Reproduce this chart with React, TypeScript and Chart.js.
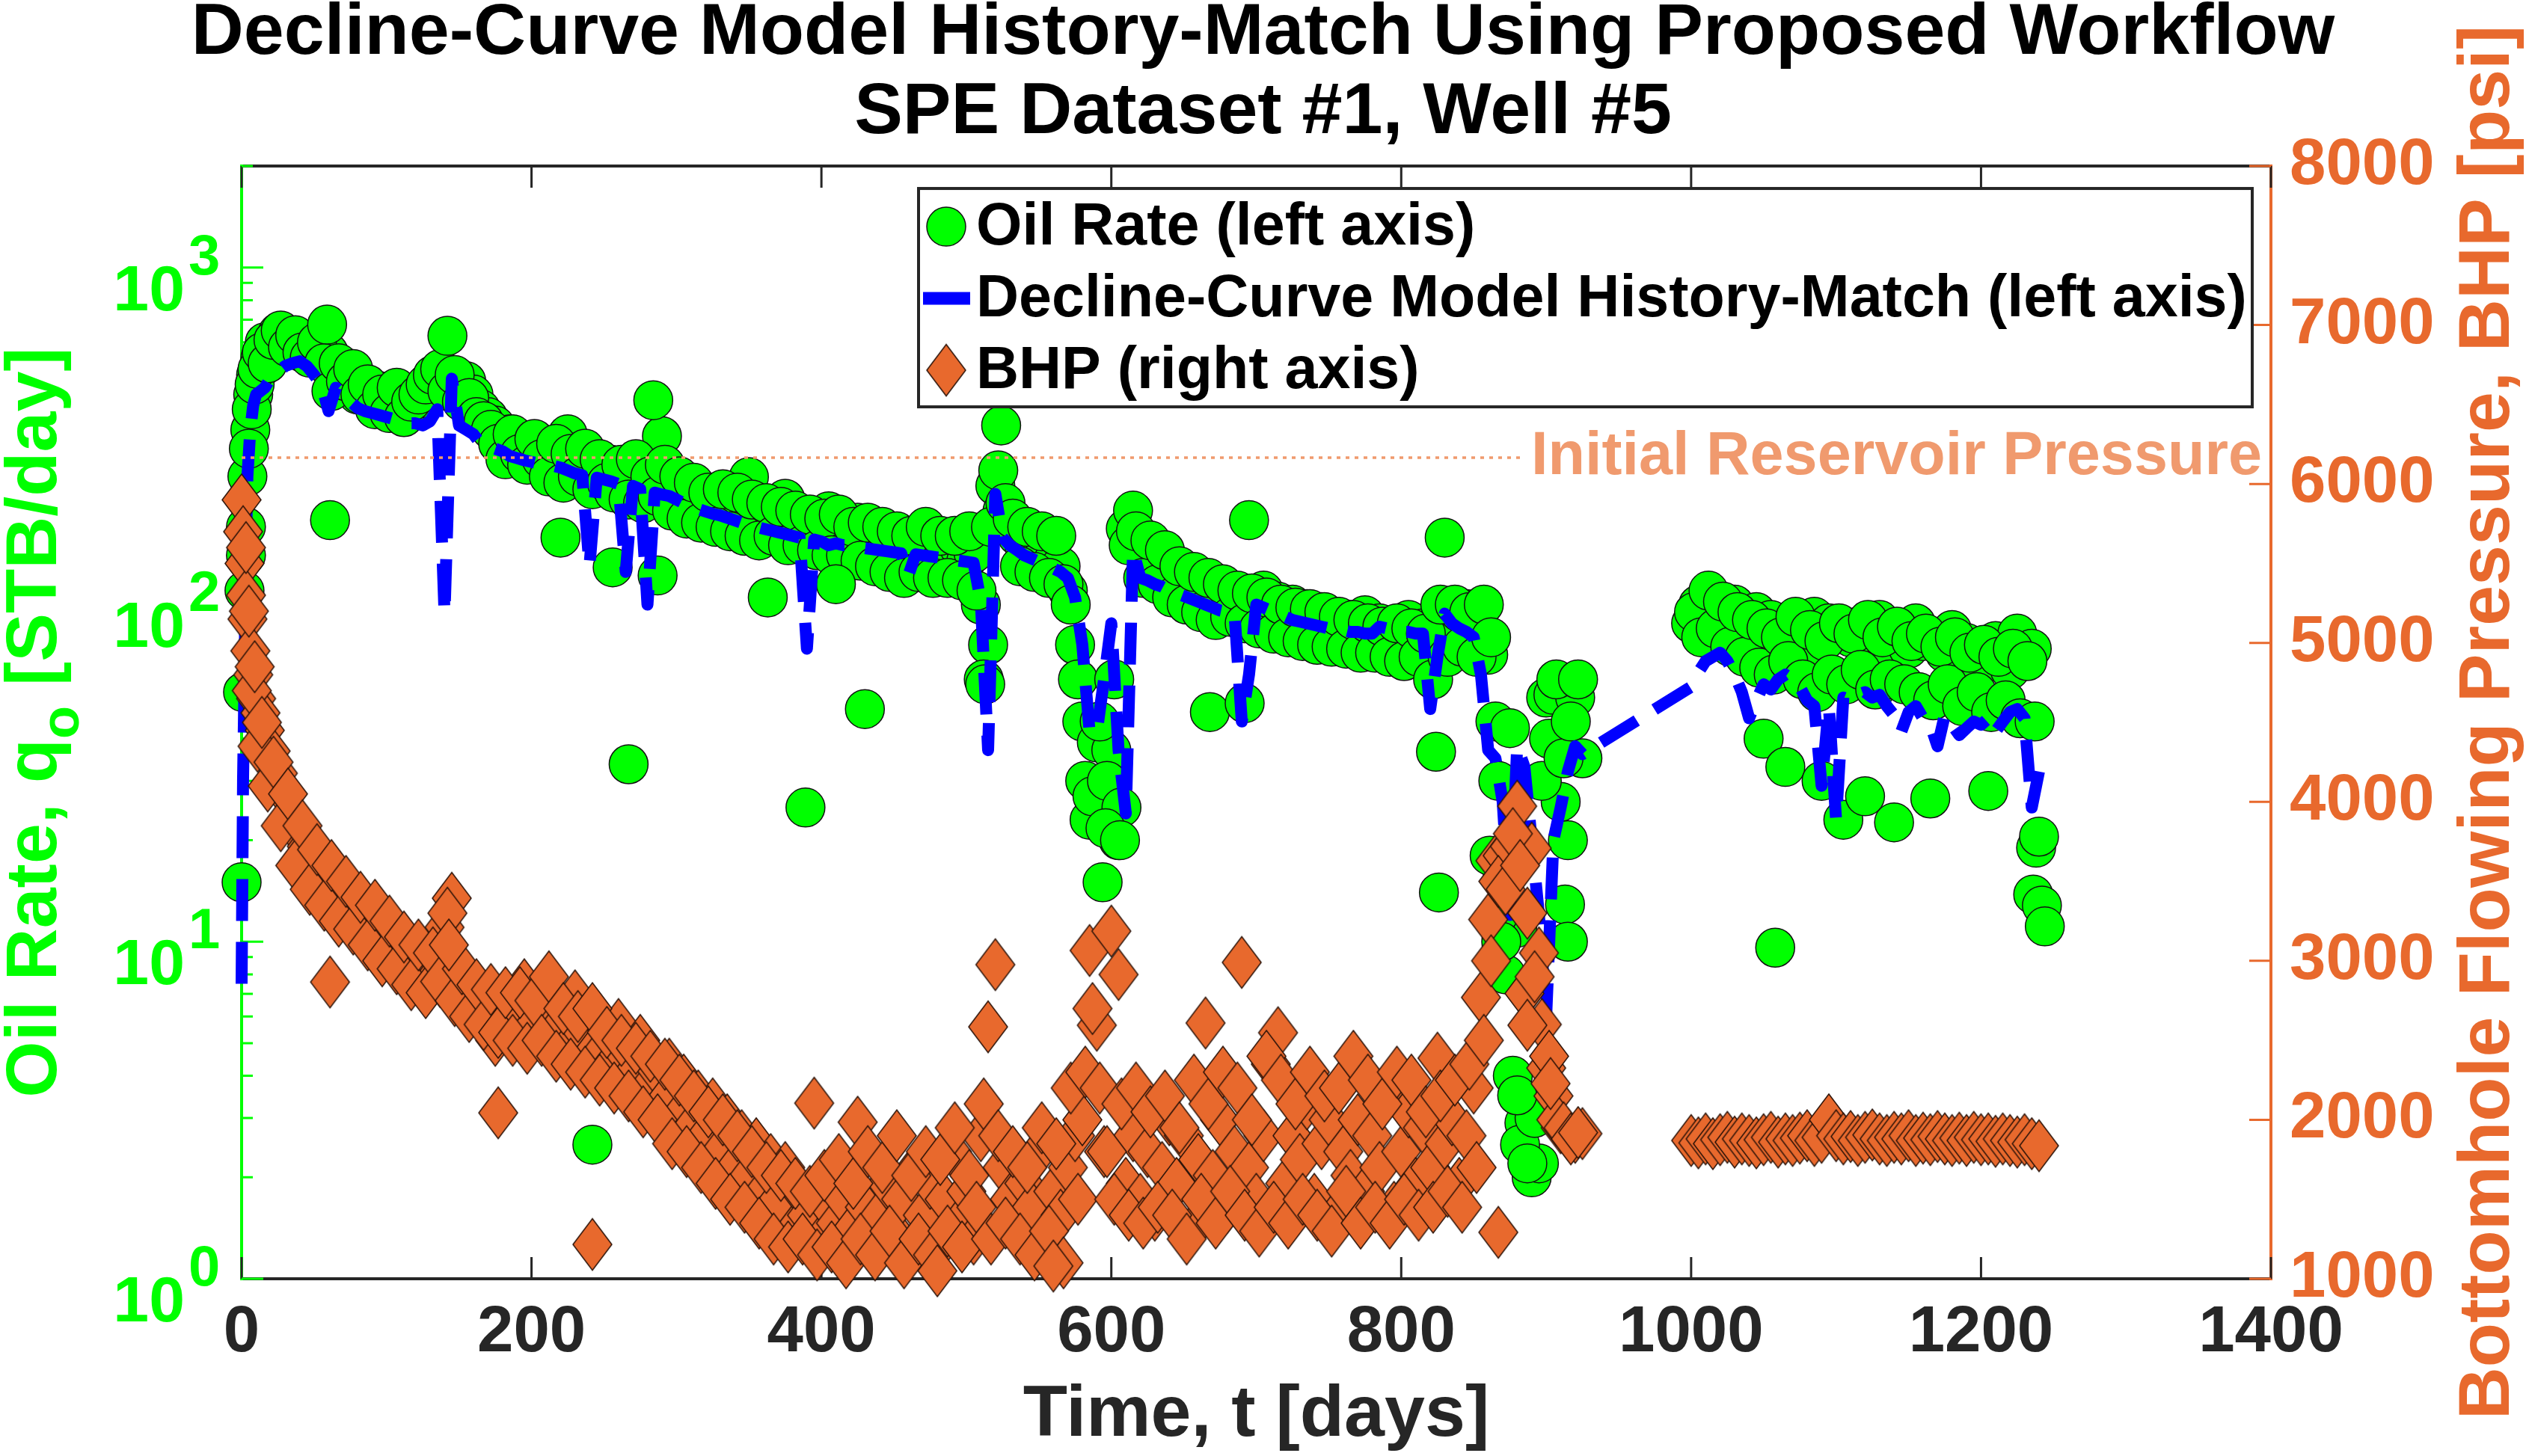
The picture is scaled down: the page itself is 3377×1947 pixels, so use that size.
import React, { useEffect, useRef } from 'react';
import { Chart, registerables } from 'chart.js';

Chart.register(...registerables);

const W = 3377;
const H = 1947;
const FONT = '"Liberation Sans", Arial, Helvetica, sans-serif';
const GREEN = '#00FF00';
const BLUE = '#0000FF';
const ORANGE = '#E8692D';
const INIT_COLOR = '#F09A6E';
const DARK = '#262626';

// ---------- text ----------
const titleLines = ['Decline-Curve Model History-Match Using Proposed Workflow', 'SPE Dataset #1, Well #5'];
const xTitle = 'Time, t [days]';
const leftTitleMain = 'Oil Rate, q';
const leftTitleSub = 'o';
const leftTitleEnd = ' [STB/day]';
const rightTitle = 'Bottomhole Flowing Pressure, BHP [psi]';
const legendLabels = ['Oil Rate (left axis)', 'Decline-Curve Model History-Match (left axis)', 'BHP (right axis)'];
const initialPressure = 6165;
const initialPressureLabel = 'Initial Reservoir Pressure';

// ---------- ticks ----------
const xTicks = [0, 200, 400, 600, 800, 1000, 1200, 1400];
const leftMajorTicks = [1, 10, 100, 1000];
const leftTickExponents = ['0', '1', '2', '3'];
const rightTicks = [1000, 2000, 3000, 4000, 5000, 6000, 7000, 8000];

// ---------- data: first production period (main readings) ----------
const days1 = [
  0, 1, 2, 3, 4, 6, 8, 10, 13, 16,
  20, 25, 30, 35, 40, 45, 50, 55, 60, 65,
  70, 75, 80, 85, 90, 95, 100, 105, 110, 115,
  120, 125, 130, 135, 140, 145, 150, 155, 160, 165,
  170, 175, 180, 185, 190, 195, 200, 205, 210, 215,
  220, 225, 230, 235, 240, 245, 250, 255, 260, 265,
  270, 275, 280, 285, 290, 295, 300, 305, 310, 315,
  320, 325, 330, 335, 340, 345, 350, 355, 360, 365,
  370, 375, 380, 385, 390, 395, 400, 405, 410, 415,
  420, 425, 430, 435, 440, 445, 450, 455, 460, 465,
  470, 475, 480, 485, 490, 495, 500, 505, 510, 515,
  520, 525, 530, 535, 540, 545, 550, 555, 560, 565,
  570, 575, 580, 585, 590, 595, 600, 605, 610, 615,
  620, 625, 630, 635, 640, 645, 650, 655, 660, 665,
  670, 675, 680, 685, 690, 695, 700, 705, 710, 715,
  720, 725, 730, 735, 740, 745, 750, 755, 760, 765,
  770, 775, 780, 785, 790, 795, 800, 805, 810, 815,
  820, 825, 830, 835, 840, 845, 850, 855, 860, 865,
  870, 875, 880, 885, 890, 895, 900, 905, 910, 915,
  920, 925,
];
const oilRate1 = [
  15, 55, 110, 170, 240, 330, 420, 480, 540, 600,
  560, 640, 590, 620, 600, 570, 590, 530, 560, 480,
  480, 450, 420, 440, 410, 430, 390, 415, 380, 400,
  395, 410, 440, 455, 470, 460, 440, 460, 420, 380,
  360, 340, 300, 320, 290, 305, 280, 300, 275, 290,
  260, 320, 250, 270, 239, 255, 240, 260, 230, 250,
  240, 225, 250, 230, 316, 220, 210, 230, 200, 215,
  180, 200, 190, 210, 185, 200, 239, 190, 180, 195,
  175, 206, 170, 185, 165, 180, 160, 189, 170, 165,
  160, 175, 150, 165, 155, 145, 160, 150, 140, 155,
  145, 150, 140, 155, 138, 148, 135, 142, 100, 76,
  225, 190, 170, 160, 150, 155, 140, 148, 135, 130,
  110, 76, 45, 23, 39, 27, 37, 20, 168, 190,
  150, 125, 135, 115, 128, 110, 120, 105, 115, 100,
  112, 95, 108, 92, 100, 105, 98, 110, 95, 102,
  92, 100, 88, 97, 85, 95, 82, 92, 80, 90,
  85, 93, 80, 88, 78, 86, 82, 90, 76, 85,
  80, 88, 76, 84, 95, 97, 92, 98, 71, 45,
  16, 43, 11, 2.9, 2.0, 2.2, 53, 54, 26, 20,
  53, 35,
];
const model1 = [
  7.5, 30, 60, 150, 240, 330, 390, 420, 430, 440,
  470, 490, 510, 520, 527, 510, 480, 450, 375, 440,
  420, 400, 383, 375, 370, 365, 360, 355, 350, 345,
  345, 340, 350, 380, 94, 468, 340, 330, 320, 300,
  295, 290, 285, 276, 272, 268, 265, 262, 261, 258,
  255, 250, 245, 242, 130, 238, 235, 232, 228, 125,
  225, 220, 100, 215, 212, 210, 205, 200, 195, 192,
  189, 186, 184, 181, 178, 175, 172, 170, 168, 166,
  164, 162, 160, 158, 74, 156, 154, 150, 152, 150,
  150, 148, 147, 146, 145, 144, 143, 142, 122, 141,
  140, 139, 138, 137, 136, 135, 134, 133, 102, 37,
  213, 158, 150, 145, 140, 137, 134, 131, 128, 125,
  120, 105, 76, 42, 42, 60, 88, 37, 24, 145,
  120, 118, 115, 113, 110, 108, 106, 104, 102, 100,
  98, 96, 95, 94, 45, 62, 100, 98, 96, 94,
  92, 90, 89, 88, 87, 86, 85, 84, 84, 83,
  83, 82, 82, 86, 85, 84, 83, 83, 82, 82,
  49, 70, 94, 88, 85, 83, 80, 62, 37, 35,
  26, 12, 38, 33, 20, 12, 6, 20, 25, 32,
  38, 36,
];
const bhp1 = [
  5900, 5700, 5500, 5300, 5150, 4950, 4800, 4650, 4560, 4450,
  4320, 4180, 4050, 3900, 3800, 3720, 3640, 3580, 3520, 3460,
  3410, 3360, 3320, 3280, 3240, 3200, 3160, 3120, 3080, 3050,
  3010, 2980, 2940, 2920, 3211, 3394, 2900, 2860, 2800, 2760,
  2740, 2500, 2700, 2640, 2600, 2850, 2580, 2750, 2520, 2700,
  2600, 2450, 2780, 2550, 2400, 2650, 2450, 2350, 2600, 2400,
  2300, 2500, 2200, 2326, 2100, 2350, 2000, 2250, 1950, 2150,
  1900, 2100, 1800, 2000, 1700, 1900, 1650, 1850, 1550, 1750,
  1500, 1700, 1300, 1550, 1400, 2105, 1250, 1450, 1350, 1500,
  1300, 1985, 1450, 1200, 1400, 1600, 1300, 1500, 1150, 1700,
  1400, 1600, 1200, 1500, 1800, 1350, 1550, 1250, 1900, 2585,
  2976, 1700, 1500, 1300, 1600, 1450, 1800, 1200, 1550, 1400,
  1700, 1900, 2000, 3065, 2595, 1800, 3187, 2914, 1600, 1900,
  1500, 1800, 1400, 1700, 2000, 1600, 1900, 1300, 1750, 2609,
  1650, 2000, 1450, 1800, 2990, 1700, 1500, 1900, 2350, 2548,
  1600, 1900, 1750, 2100, 1500, 1850, 2000, 1400, 1800, 1650,
  2000, 1550, 1900, 1700, 2150, 1450, 1800, 2050, 1600, 1950,
  1700, 2388, 1850, 2000, 1600, 1900, 2200, 2770, 3260, 3630,
  3662, 3720, 3973, 2795, 3709, 3050, 2326, 2150, 1950, 1908,
  1890, 1913,
];

// ---------- first period: in-between daily readings (scatter layer) ----------
const days1b = [
  3, 5, 7, 9, 11, 14, 18, 22, 27, 32,
  37, 42, 47, 52, 57, 62, 67, 72, 77, 82,
  87, 92, 97, 102, 107, 112, 117, 122, 127, 132,
  137, 142, 147, 152, 157, 162, 167, 172, 177, 182,
  187, 192, 197, 202, 207, 212, 217, 222, 227, 232,
  237, 242, 247, 252, 257, 262, 267, 272, 277, 282,
  287, 292, 297, 302, 307, 312, 317, 322, 327, 332,
  337, 342, 347, 352, 357, 362, 367, 372, 377, 382,
  387, 392, 397, 402, 407, 412, 417, 422, 427, 432,
  437, 442, 447, 452, 457, 462, 467, 472, 477, 482,
  487, 492, 497, 502, 507, 512, 517, 522, 527, 532,
  537, 542, 547, 552, 557, 562, 567, 572, 577, 582,
  587, 592, 597, 602, 607, 612, 617, 622, 627, 632,
  637, 642, 647, 652, 657, 662, 667, 672, 677, 682,
  687, 692, 697, 702, 707, 712, 717, 722, 727, 732,
  737, 742, 747, 752, 757, 762, 767, 772, 777, 782,
  787, 792, 797, 802, 807, 812, 817, 822, 827, 832,
  837, 842, 847, 852, 857, 862, 867, 872, 877, 882,
  887, 892, 897, 902, 907, 912, 917, 922,
];
const oilRate1b = [
  140, 290, 380, 450, 500, 560, 520, 610, 650, 580,
  630, 560, 540, 600, 520, 430, 520, 460, 500, 420,
  450, 380, 420, 370, 440, 360, 400, 420, 450, 480,
  500, 430, 480, 400, 410, 360, 350, 330, 300, 270,
  320, 280, 260, 310, 270, 240, 300, 230, 280, 240,
  290, 220, 270, 230, 215, 260, 205, 270, 200, 240,
  210, 260, 190, 240, 180, 230, 175, 215, 170, 220,
  165, 215, 160, 205, 155, 200, 160, 195, 150, 190,
  150, 185, 145, 180, 140, 185, 140, 170, 135, 175,
  130, 170, 125, 165, 120, 160, 125, 170, 120, 160,
  120, 160, 118, 165, 110, 60, 170, 250, 200, 180,
  130, 170, 125, 165, 120, 160, 115, 100, 60, 30,
  27, 45, 30, 60, 25, 150, 165, 120, 155, 115,
  145, 105, 130, 100, 125, 95, 120, 90, 115, 92,
  110, 88, 108, 85, 105, 82, 100, 80, 98, 78,
  97, 76, 95, 75, 92, 74, 90, 72, 88, 72,
  86, 70, 88, 68, 85, 70, 82, 60, 100, 70,
  100, 75, 95, 70, 100, 80, 30, 8, 4, 2.5,
  2.2, 3, 30, 40, 60, 35, 45, 60,
];
const bhp1b = [
  5600, 5200, 4700, 4850, 4350, 4500, 4100, 4250, 3850, 4050,
  3600, 3850, 3450, 3700, 3350, 3600, 3250, 3500, 3200, 3400,
  3100, 3350, 3000, 3250, 2950, 3150, 2850, 3100, 2800, 3050,
  2870, 3300, 2750, 2950, 2650, 2850, 2600, 2820, 2550, 2800,
  2500, 2800, 2450, 2750, 2500, 2900, 2400, 2700, 2350, 2650,
  2300, 2700, 2250, 2550, 2200, 2500, 2150, 2450, 2050, 2400,
  2000, 2350, 1850, 2250, 1800, 2150, 1700, 2050, 1600, 2000,
  1500, 1900, 1450, 1800, 1350, 1700, 1250, 1650, 1200, 1600,
  1250, 1550, 1150, 1650, 1200, 1750, 1100, 1600, 1250, 1800,
  1150, 1700, 1300, 1900, 1100, 1650, 1250, 1800, 1150, 1750,
  1300, 1950, 1200, 1650, 1450, 2100, 1250, 1900, 1350, 1800,
  1250, 1700, 1150, 1950, 1300, 1850, 1100, 2200, 1500, 2300,
  2700, 2200, 1800, 1500, 2100, 1400, 2200, 1350, 2050, 1450,
  2150, 1400, 1950, 1250, 2250, 1500, 2100, 1350, 2300, 1550,
  2200, 1400, 2000, 1300, 2400, 1450, 2250, 1350, 2100, 1500,
  2300, 1400, 2150, 1300, 2200, 1550, 2400, 1350, 2250, 1450,
  2100, 1350, 2300, 1500, 2250, 1400, 2050, 1450, 2150, 1550,
  2250, 1450, 2350, 1700, 2500, 3000, 3500, 3450, 3800, 3600,
  3300, 2900, 2600, 2400, 2000, 1950, 1880, 1920,
];

// isolated readings that sit off the main trend
const oilOutlierDays = [59, 61, 142, 220, 242, 256, 267, 284, 287, 363, 389, 410, 430, 513, 524, 594, 596, 606, 668, 692, 695, 824, 826, 830, 861, 867, 869, 880, 913, 915, 1058, 1236, 1238, 1242, 1244];
const oilOutliers = [677, 178, 627, 158, 2.5, 129, 33.6, 404, 122, 105, 25, 115, 49, 58, 340, 15, 21.7, 20, 48, 51, 178, 36.6, 14, 158, 18, 12, 10, 3.5, 12.9, 10, 9.6, 13.8, 19, 12.8, 11.1];
const bhpOutlierDays = [61, 143, 177, 242, 480, 560, 867, 887, 903];
const bhpOutliers = [2867, 3100, 2044, 1216, 1050, 1080, 1292, 2595, 2228];

// ---------- data: second production period ----------
const days2 = [
  1000, 1005, 1010, 1015, 1020, 1025, 1030, 1035, 1040, 1045,
  1050, 1055, 1060, 1065, 1070, 1075, 1080, 1085, 1090, 1095,
  1100, 1105, 1110, 1115, 1120, 1125, 1130, 1135, 1140, 1145,
  1150, 1155, 1160, 1165, 1170, 1175, 1180, 1185, 1190, 1195,
  1200, 1205, 1210, 1215, 1220, 1225, 1230, 1235, 1240,
];
const oilRate2 = [
  88, 100, 95, 105, 90, 98, 100, 88, 84, 95,
  40, 90, 78, 33, 88, 82, 74, 92, 30, 88,
  82, 23, 80, 86, 27, 82, 90, 76, 22.6, 84,
  74, 88, 78, 26.6, 80, 72, 84, 70, 77, 74,
  66, 28, 78, 72, 64, 82, 70, 74, 20.5,
];
const model2 = [
  57, 63, 68, 70, 72, 68, 62, 55, 46, 52,
  58, 56, 60, 62, 60, 57, 52, 50, 29, 50,
  23, 53, 52, 54, 55, 53, 54, 50, 47, 42,
  48, 50, 46, 44, 38, 47, 44, 41, 43, 45,
  44, 46, 42, 45, 48, 49, 46, 25, 32,
];
const bhp2 = [
  1870, 1855, 1880, 1850, 1875, 1890, 1860, 1880, 1870, 1855,
  1875, 1890, 1860, 1880, 1870, 1885, 1900, 1870, 1890, 2000,
  1900, 1880, 1895, 1870, 1890, 1905, 1880, 1870, 1890, 1880,
  1900, 1870, 1885, 1875, 1895, 1880, 1870, 1885, 1870, 1890,
  1875, 1880, 1865, 1880, 1870, 1860, 1875, 1850, 1837,
];
const days2b = [
  1002, 1007, 1012, 1017, 1022, 1027, 1032, 1037, 1042, 1047,
  1052, 1057, 1062, 1067, 1072, 1077, 1082, 1087, 1092, 1097,
  1102, 1107, 1112, 1117, 1122, 1127, 1132, 1137, 1142, 1147,
  1152, 1157, 1162, 1167, 1172, 1177, 1182, 1187, 1192, 1197,
  1202, 1207, 1212, 1217, 1222, 1227, 1232, 1237,
];
const oilRate2b = [
  95, 80, 110, 85, 102, 75, 95, 70, 90, 65,
  85, 62, 80, 68, 92, 60, 84, 55, 78, 62,
  88, 58, 82, 64, 90, 56, 80, 60, 86, 58,
  78, 55, 82, 52, 75, 58, 80, 50, 72, 55,
  76, 48, 70, 52, 74, 46, 68, 45,
];

const pair = (days: number[], vals: number[]) => days.map((d, i) => ({ x: d, y: vals[i] }));

function makeDiamond(w: number, h: number) {
  const c = document.createElement('canvas');
  c.width = w + 4;
  c.height = h + 4;
  const g = c.getContext('2d')!;
  g.beginPath();
  g.moveTo(c.width / 2, 2);
  g.lineTo(c.width - 2, c.height / 2);
  g.lineTo(c.width / 2, c.height - 2);
  g.lineTo(2, c.height / 2);
  g.closePath();
  g.fillStyle = ORANGE;
  g.fill();
  g.lineWidth = 1.5;
  g.strokeStyle = '#2a1208';
  g.stroke();
  return c;
}

function drawCircleMarker(ctx: CanvasRenderingContext2D, x: number, y: number) {
  ctx.beginPath();
  ctx.arc(x, y, 26, 0, Math.PI * 2);
  ctx.fillStyle = GREEN;
  ctx.fill();
  ctx.lineWidth = 1.5;
  ctx.strokeStyle = '#111';
  ctx.stroke();
}

function makeDecor(diamond: HTMLCanvasElement) {
  return {
    id: 'decor',
    beforeDatasetsDraw(chart: any) {
      const { ctx, chartArea: a, scales } = chart;
      const xs = scales.x, yl = scales.y, yr = scales.y2;
      ctx.save();
      ctx.lineCap = 'butt';
      ctx.lineWidth = 4;
      ctx.strokeStyle = DARK;
      ctx.beginPath();
      ctx.moveTo(a.left, a.bottom); ctx.lineTo(a.right, a.bottom);
      ctx.moveTo(a.left, a.top); ctx.lineTo(a.right, a.top);
      ctx.stroke();
      ctx.strokeStyle = GREEN;
      ctx.beginPath(); ctx.moveTo(a.left, a.top - 2); ctx.lineTo(a.left, a.bottom + 2); ctx.stroke();
      ctx.strokeStyle = ORANGE;
      ctx.beginPath(); ctx.moveTo(a.right, a.top - 2); ctx.lineTo(a.right, a.bottom + 2); ctx.stroke();
      ctx.lineWidth = 3;
      ctx.strokeStyle = DARK;
      ctx.beginPath();
      for (const v of xTicks) {
        const px = xs.getPixelForValue(v);
        ctx.moveTo(px, a.bottom); ctx.lineTo(px, a.bottom - 29);
        ctx.moveTo(px, a.top); ctx.lineTo(px, a.top + 29);
      }
      ctx.stroke();
      ctx.strokeStyle = GREEN;
      ctx.beginPath();
      for (const dec of leftMajorTicks) {
        for (let m = 1; m <= 9; m++) {
          const v = dec * m;
          if (v > yl.max) break;
          const py = yl.getPixelForValue(v);
          ctx.moveTo(a.left, py); ctx.lineTo(a.left + (m === 1 ? 29 : 15), py);
        }
      }
      ctx.stroke();
      ctx.strokeStyle = ORANGE;
      ctx.beginPath();
      for (const v of rightTicks) {
        const py = yr.getPixelForValue(v);
        ctx.moveTo(a.right, py); ctx.lineTo(a.right - 29, py);
      }
      ctx.stroke();
      ctx.fillStyle = GREEN;
      leftMajorTicks.forEach((v, i) => {
        const py = yl.getPixelForValue(v);
        ctx.font = `bold 86px ${FONT}`;
        ctx.textAlign = 'right';
        ctx.textBaseline = 'alphabetic';
        ctx.fillText('10', a.left - 76, py + 57);
        ctx.font = `bold 76px ${FONT}`;
        ctx.textAlign = 'left';
        ctx.fillText(leftTickExponents[i], a.left - 71, py + 9);
      });
      ctx.restore();
    },
    afterDatasetsDraw(chart: any) {
      const { ctx, chartArea: a, scales } = chart;
      const py = scales.y2.getPixelForValue(initialPressure);
      ctx.save();
      ctx.font = `bold 81px ${FONT}`;
      const tw = ctx.measureText(initialPressureLabel).width;
      const textRight = a.right - 12;
      const textLeft = textRight - tw;
      ctx.setLineDash([5, 7]);
      ctx.lineWidth = 3.5;
      ctx.strokeStyle = INIT_COLOR;
      ctx.beginPath();
      ctx.moveTo(a.left, py);
      ctx.lineTo(textLeft - 10, py);
      ctx.stroke();
      ctx.setLineDash([]);
      ctx.fillStyle = INIT_COLOR;
      ctx.textAlign = 'right';
      ctx.textBaseline = 'middle';
      ctx.fillText(initialPressureLabel, textRight, py);
      ctx.restore();
    },
    afterDraw(chart: any) {
      const { ctx, chartArea: a } = chart;
      const midY = (a.top + a.bottom) / 2;
      ctx.save();
      const mainFont = `bold 97px ${FONT}`;
      const subFont = `bold 72px ${FONT}`;
      ctx.font = mainFont;
      const w1 = ctx.measureText(leftTitleMain).width;
      const w3 = ctx.measureText(leftTitleEnd).width;
      ctx.font = subFont;
      const w2 = ctx.measureText(leftTitleSub).width;
      const total = w1 + w2 + w3;
      ctx.translate(75, midY);
      ctx.rotate(-Math.PI / 2);
      ctx.fillStyle = GREEN;
      ctx.textAlign = 'left';
      ctx.textBaseline = 'alphabetic';
      ctx.font = mainFont;
      ctx.fillText(leftTitleMain, -total / 2, 0);
      ctx.font = subFont;
      ctx.fillText(leftTitleSub, -total / 2 + w1, 30);
      ctx.font = mainFont;
      ctx.fillText(leftTitleEnd, -total / 2 + w1 + w2, 0);
      ctx.restore();

      ctx.save();
      ctx.translate(3354, midY);
      ctx.rotate(-Math.PI / 2);
      ctx.fillStyle = ORANGE;
      ctx.font = mainFont;
      ctx.textAlign = 'center';
      ctx.textBaseline = 'alphabetic';
      ctx.fillText(rightTitle, 0, 0);
      ctx.restore();

      const lx = a.left + 905;
      const ly = a.top + 30;
      const lw = 1783;
      const lh = 292;
      ctx.save();
      ctx.fillStyle = '#fff';
      ctx.fillRect(lx, ly, lw, lh);
      ctx.lineWidth = 4;
      ctx.strokeStyle = DARK;
      ctx.strokeRect(lx, ly, lw, lh);
      const rows = [ly + 51, ly + 147, ly + 243];
      const mx = lx + 37;
      drawCircleMarker(ctx, mx, rows[0]);
      ctx.lineWidth = 17;
      ctx.strokeStyle = BLUE;
      ctx.beginPath();
      ctx.moveTo(mx - 31, rows[1]);
      ctx.lineTo(mx + 32, rows[1]);
      ctx.stroke();
      ctx.drawImage(diamond, mx - diamond.width / 2, rows[2] - diamond.height / 2);
      ctx.fillStyle = '#000';
      ctx.font = `bold 79px ${FONT}`;
      ctx.textAlign = 'left';
      ctx.textBaseline = 'middle';
      legendLabels.forEach((t, i) => ctx.fillText(t, lx + 77, rows[i] + 2));
      ctx.restore();
    },
  };
}

export default function App() {
  const ref = useRef<HTMLCanvasElement>(null);
  useEffect(() => {
    const canvas = ref.current;
    if (!canvas) return;
    const diamond = makeDiamond(52, 69);
    const tickFont = { family: FONT, size: 87, weight: 'bold' as const };
    const chart = new Chart(canvas, {
      type: 'scatter',
      data: {
        datasets: [
          {
            label: legendLabels[2],
            data: pair(days1, bhp1).concat(pair(days1b, bhp1b), pair(bhpOutlierDays, bhpOutliers), pair(days2, bhp2)),
            yAxisID: 'y2',
            pointStyle: diamond as any,
            pointRadius: 34,
            backgroundColor: ORANGE,
            borderColor: '#2a1208',
            clip: false as any,
            order: 0,
          },
          {
            type: 'line' as any,
            label: legendLabels[1],
            data: pair(days1, model1).concat(pair(days2, model2)),
            yAxisID: 'y',
            showLine: true,
            borderColor: BLUE,
            borderWidth: 16,
            borderDash: [56, 28],
            borderCapStyle: 'butt',
            borderJoinStyle: 'round',
            pointRadius: 0,
            tension: 0,
            fill: false,
            clip: false as any,
            order: 1,
          },
          {
            label: legendLabels[0],
            data: pair(days1, oilRate1).concat(pair(days1b, oilRate1b), pair(oilOutlierDays, oilOutliers), pair(days2, oilRate2), pair(days2b, oilRate2b)),
            yAxisID: 'y',
            pointStyle: 'circle',
            pointRadius: 26,
            borderWidth: 1.5,
            backgroundColor: GREEN,
            borderColor: '#111',
            clip: false as any,
            order: 2,
          },
        ],
      },
      options: {
        responsive: false,
        devicePixelRatio: 1,
        animation: false,
        events: [],
        layout: { padding: 0 },
        plugins: {
          legend: { display: false },
          tooltip: { enabled: false },
          title: {
            display: true,
            text: titleLines,
            color: '#000',
            font: { family: FONT, size: 97, weight: 'bold', lineHeight: 1.093 },
            padding: { top: -8, bottom: 18 },
          },
        },
        scales: {
          x: {
            type: 'linear',
            position: 'bottom',
            min: 0,
            max: 1400,
            ticks: { stepSize: 200, color: DARK, font: tickFont, padding: 21, maxRotation: 0, autoSkip: false, callback: (v: any) => String(v) },
            grid: { display: false, drawTicks: false },
            border: { display: false },
            title: { display: true, text: xTitle, color: DARK, font: { family: FONT, size: 97, weight: 'bold', lineHeight: 1.1 }, padding: { top: 0, bottom: 0 } },
            afterFit: (s: any) => { s.height = 237; },
          },
          y: {
            type: 'logarithmic',
            position: 'left',
            min: 1,
            max: 2000,
            ticks: { display: false },
            grid: { display: false, drawTicks: false },
            border: { display: false },
            afterFit: (s: any) => { s.width = 323; },
          },
          y2: {
            type: 'linear',
            position: 'right',
            min: 1000,
            max: 8000,
            ticks: { stepSize: 1000, color: ORANGE, font: tickFont, padding: 25, callback: (v: any) => String(v) },
            grid: { display: false, drawTicks: false },
            border: { display: false },
            afterFit: (s: any) => { s.width = 341; },
          },
        },
      } as any,
      plugins: [makeDecor(diamond)],
    });
    return () => chart.destroy();
  }, []);
  return (
    <div style={{ position: 'fixed', left: 0, top: 0, width: W, height: H, background: '#fff' }}>
      <canvas ref={ref} width={W} height={H} style={{ width: W, height: H, display: 'block' }} />
    </div>
  );
}
